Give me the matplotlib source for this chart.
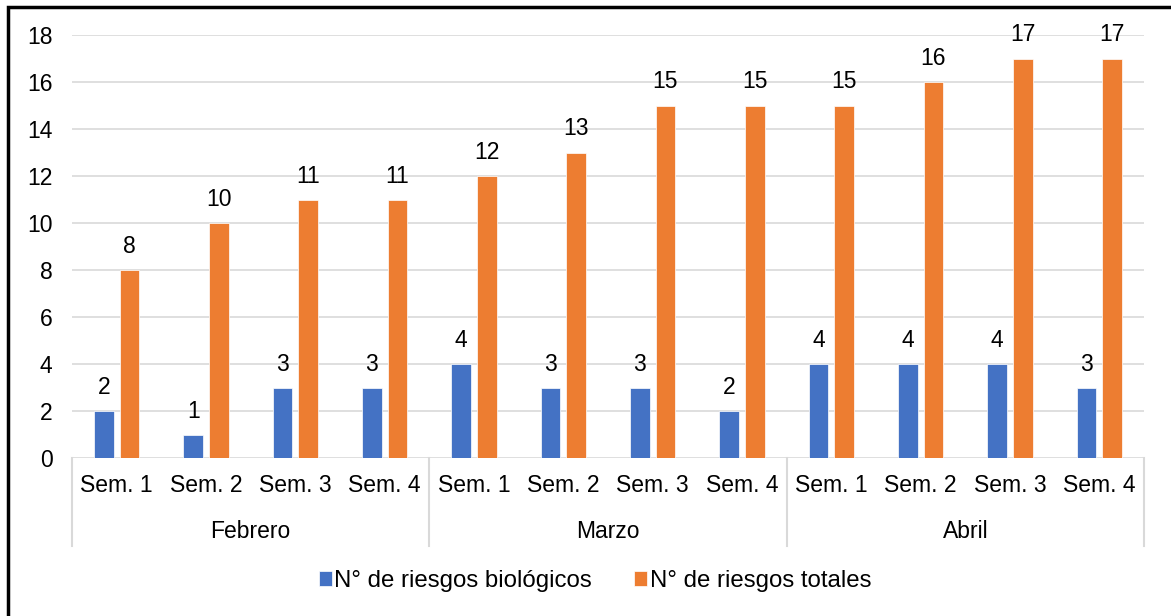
import numpy as np
import matplotlib.pyplot as plt
import matplotlib.transforms as mtransforms
from matplotlib.patches import Rectangle

plt.rcParams['font.family'] = ['Liberation Sans', 'DejaVu Sans']

meses = ["Febrero", "Marzo", "Abril"]
semanas = ["Sem. 1", "Sem. 2", "Sem. 3", "Sem. 4"]
biologicos = [2, 1, 3, 3, 4, 3, 3, 2, 4, 4, 4, 3]
totales = [8, 10, 11, 11, 12, 13, 15, 15, 15, 16, 17, 17]

azul = "#4472C4"
naranja = "#ED7D31"
gris = "#D9D9D9"
fs = 16.5

W, H = 1171, 616
fig = plt.figure(figsize=(W / 100, H / 100), dpi=100)

# plot area in pixels: x 72..1144, y 35..458
ax = fig.add_axes([72 / W, 1 - 458.3 / H, (1144 - 72) / W, (458.3 - 35) / H])

x = np.arange(len(totales))
ancho = 0.222
b1 = ax.bar(x - 0.143, biologicos, ancho, color=azul, edgecolor="white",
            linewidth=0.5, label="N° de riesgos biológicos", zorder=3)
b2 = ax.bar(x + 0.143, totales, ancho, color=naranja, edgecolor="white",
            linewidth=0.5, label="N° de riesgos totales", zorder=3)

for barras, vals in ((b1, biologicos), (b2, totales)):
    for r, v in zip(barras, vals):
        ax.annotate(str(v), (r.get_x() + r.get_width() / 2, v),
                    xytext=(0, 17), textcoords="offset points",
                    ha="center", va="center", fontsize=fs, annotation_clip=False)

ax.set_xlim(-0.5, len(totales) - 0.5)
ax.set_ylim(0, 18)
ax.set_yticks(range(0, 19, 2))
ax.yaxis.grid(True, color=gris, linewidth=1.2, zorder=0)
ax.set_axisbelow(True)
for s in ax.spines.values():
    s.set_visible(False)

ax.set_xticks(x, semanas * len(meses))
ax.tick_params(axis="x", length=0, pad=11, labelsize=fs)
ax.tick_params(axis="y", length=0, pad=14, labelsize=fs)

# month level of the category axis
trans = mtransforms.blended_transform_factory(ax.transData, ax.transAxes)
for i, mes in enumerate(meses):
    ax.text(4 * i + 1.5, -0.174, mes, transform=trans, ha="center",
            va="center", fontsize=fs)
for xs in np.arange(len(meses) + 1) * 4 - 0.5:
    ax.plot([xs, xs], [0, -0.207], transform=trans, color=gris,
            linewidth=1.5, clip_on=False)

fig.legend(handles=[b1, b2], loc="center", bbox_to_anchor=(595 / W, 1 - 581 / H),
           ncol=2, frameon=False, fontsize=17.3, handlelength=0.55,
           handleheight=0.55, handletextpad=0.1, columnspacing=1.75)

# chart border, open on the right and bottom edges
fig.patches.append(Rectangle((8 / W, -0.1), 1.2, 1 - 7 / H + 0.1, fill=False,
                             edgecolor="black", linewidth=2.5,
                             transform=fig.transFigure, figure=fig))

fig.savefig("out.png", dpi=100)
